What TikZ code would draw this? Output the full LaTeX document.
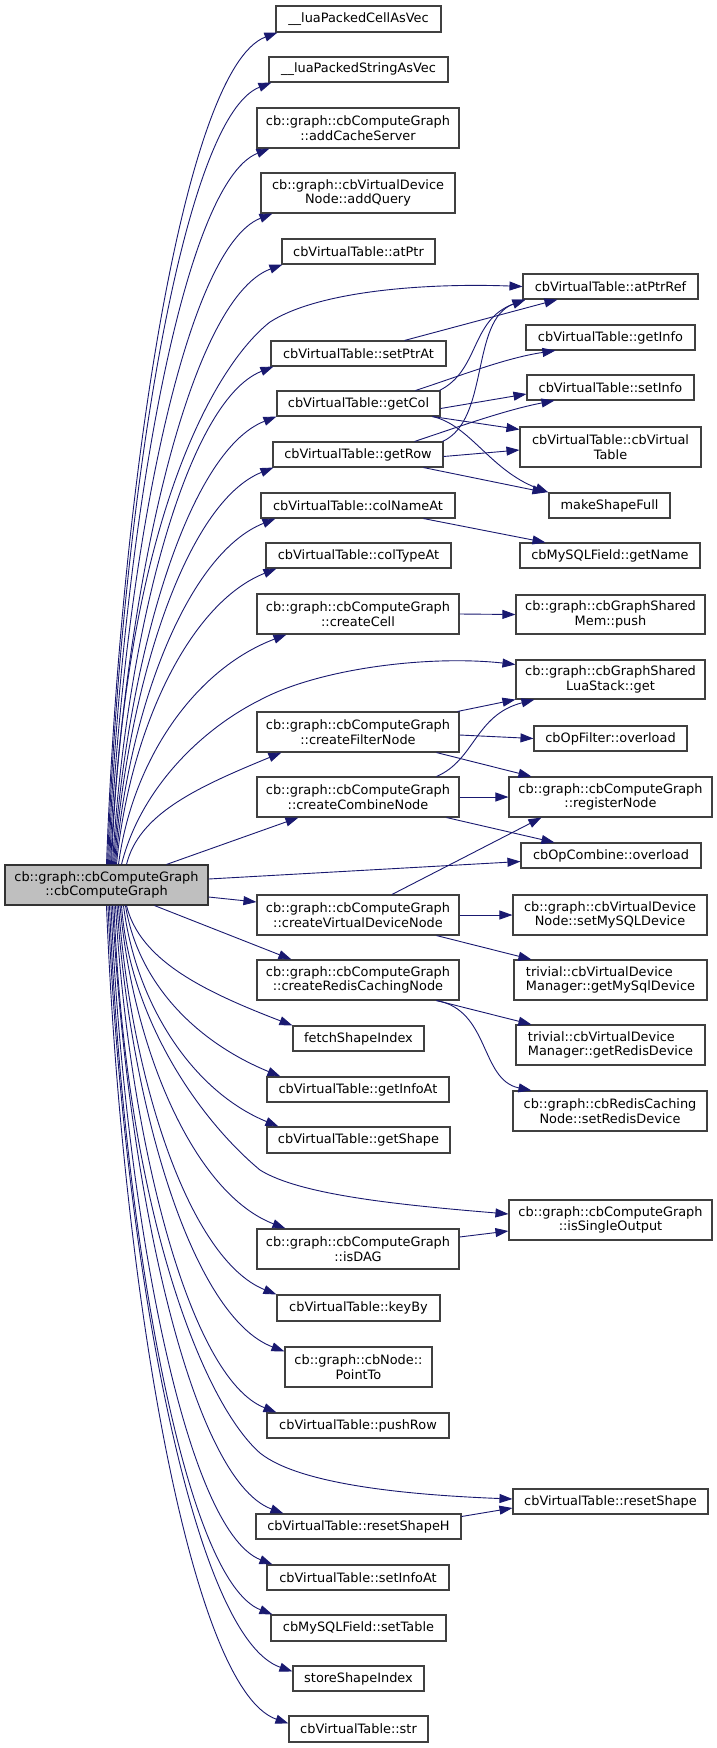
\documentclass[tikz,border=0pt]{standalone}
\usepackage{fontspec}
\setmainfont{DejaVu Sans}
\usetikzlibrary{arrows.meta,calc}
\definecolor{edgec}{RGB}{25,25,112}
\definecolor{bord}{HTML}{404040}
\definecolor{mainfill}{HTML}{BFBFBF}
\tikzset{
  box/.style={draw=bord, fill=white, line width=1.1pt, inner sep=0pt, align=center,
    font=\fontsize{12.9}{14.5}\selectfont},
  mainbox/.style={box, fill=mainfill, draw=black!80},
  arr/.style={draw=edgec, line width=0.9pt, -{Triangle[length=13pt,width=9pt]}, color=edgec},
}
\newcommand\upE[2]{\draw[arr] let \p1=(#1), \p2=(#2) in (\p1) .. controls ({(\x1)+0.08*((\x2)-(\x1))},{(\y2)+0.55*((\y1)-(\y2))}) and ({(\x1)+0.45*((\x2)-(\x1))},{(\y2)-35pt}) .. (\p2);}
\newcommand\dnE[2]{\draw[arr] let \p1=(#1), \p2=(#2) in (\p1) .. controls ({(\x1)+0.08*((\x2)-(\x1))},{(\y2)+0.55*((\y1)-(\y2))}) and ({(\x1)+0.45*((\x2)-(\x1))},{(\y2)+35pt}) .. (\p2);}
\begin{document}
\begin{tikzpicture}[x=1pt,y=-1pt]
\useasboundingbox[fill=white] (0,0) rectangle (717,1748);
% main
\node[mainbox, minimum width=203pt, minimum height=40pt] (m) at (106.5,885) {cb::graph::cbComputeGraph\\::cbComputeGraph};
% column 2
\node[box, minimum width=165pt, minimum height=26pt] (luaCell) at (358.5,19) {\_\_luaPackedCellAsVec};
\node[box, minimum width=179pt, minimum height=25pt] (luaStr) at (358.5,69.5) {\_\_luaPackedStringAsVec};
\node[box, minimum width=202pt, minimum height=40pt] (addCache) at (358,128) {cb::graph::cbComputeGraph\\::addCacheServer};
\node[box, minimum width=194pt, minimum height=40pt] (addQuery) at (358,193) {cb::graph::cbVirtualDevice\\Node::addQuery};
\node[box, minimum width=153pt, minimum height=25pt] (atPtr) at (358.5,251.5) {cbVirtualTable::atPtr};
\node[box, minimum width=175pt, minimum height=25pt] (setPtrAt) at (358.5,353.5) {cbVirtualTable::setPtrAt};
\node[box, minimum width=163pt, minimum height=25pt] (getCol) at (358.5,403.5) {cbVirtualTable::getCol};
\node[box, minimum width=170pt, minimum height=25pt] (getRow) at (358,454.5) {cbVirtualTable::getRow};
\node[box, minimum width=194pt, minimum height=25pt] (colNameAt) at (358,505.5) {cbVirtualTable::colNameAt};
\node[box, minimum width=185pt, minimum height=25pt] (colTypeAt) at (358.5,555.5) {cbVirtualTable::colTypeAt};
\node[box, minimum width=202pt, minimum height=40pt] (createCell) at (358,614) {cb::graph::cbComputeGraph\\::createCell};
\node[box, minimum width=202pt, minimum height=40pt] (createFilter) at (358,732) {cb::graph::cbComputeGraph\\::createFilterNode};
\node[box, minimum width=202pt, minimum height=40pt] (createCombine) at (358,797) {cb::graph::cbComputeGraph\\::createCombineNode};
\node[box, minimum width=202pt, minimum height=40pt] (createVDN) at (358,915) {cb::graph::cbComputeGraph\\::createVirtualDeviceNode};
\node[box, minimum width=202pt, minimum height=40pt] (createRedis) at (358,980) {cb::graph::cbComputeGraph\\::createRedisCachingNode};
\node[box, minimum width=131pt, minimum height=25pt] (fetchShapeIndex) at (358.5,1038.5) {fetchShapeIndex};
\node[box, minimum width=182pt, minimum height=25pt] (getInfoAt) at (358,1089.5) {cbVirtualTable::getInfoAt};
\node[box, minimum width=183pt, minimum height=26pt] (getShape) at (358.5,1140) {cbVirtualTable::getShape};
\node[box, minimum width=202pt, minimum height=40pt] (isDAG) at (358,1249) {cb::graph::cbComputeGraph\\::isDAG};
\node[box, minimum width=163pt, minimum height=26pt] (keyBy) at (358.5,1308) {cbVirtualTable::keyBy};
\node[box, minimum width=147pt, minimum height=40pt] (PointTo) at (358.5,1367) {cb::graph::cbNode::\\PointTo};
\node[box, minimum width=182pt, minimum height=25pt] (pushRow) at (358,1425.5) {cbVirtualTable::pushRow};
\node[box, minimum width=205pt, minimum height=25pt] (resetShapeH) at (358.5,1526.5) {cbVirtualTable::resetShapeH};
\node[box, minimum width=182pt, minimum height=25pt] (setInfoAt) at (358,1577.5) {cbVirtualTable::setInfoAt};
\node[box, minimum width=175pt, minimum height=26pt] (setTable) at (358.5,1628) {cbMySQLField::setTable};
\node[box, minimum width=131pt, minimum height=25pt] (storeShapeIndex) at (358.5,1678.5) {storeShapeIndex};
\node[box, minimum width=139pt, minimum height=26pt] (str) at (358.5,1729) {cbVirtualTable::str};
% column 3
\node[box, minimum width=175pt, minimum height=25pt] (atPtrRef) at (610.5,286.5) {cbVirtualTable::atPtrRef};
\node[box, minimum width=169pt, minimum height=25pt] (getInfo) at (610.5,337.5) {cbVirtualTable::getInfo};
\node[box, minimum width=167pt, minimum height=25pt] (setInfo) at (610.5,387.5) {cbVirtualTable::setInfo};
\node[box, minimum width=181pt, minimum height=40pt] (cbVT) at (610.5,447) {cbVirtualTable::cbVirtual\\Table};
\node[box, minimum width=121pt, minimum height=25pt] (makeShapeFull) at (609.5,505.5) {makeShapeFull};
\node[box, minimum width=180pt, minimum height=25pt] (getName) at (610,555.5) {cbMySQLField::getName};
\node[box, minimum width=189pt, minimum height=39pt] (push) at (610.5,614.5) {cb::graph::cbGraphShared\\Mem::push};
\node[box, minimum width=189pt, minimum height=39pt] (luaGet) at (610.5,679.5) {cb::graph::cbGraphShared\\LuaStack::get};
\node[box, minimum width=153pt, minimum height=25pt] (opFilter) at (610.5,738.5) {cbOpFilter::overload};
\node[box, minimum width=203pt, minimum height=40pt] (registerNode) at (610.5,797) {cb::graph::cbComputeGraph\\::registerNode};
\node[box, minimum width=180pt, minimum height=25pt] (opCombine) at (611,855.5) {cbOpCombine::overload};
\node[box, minimum width=194pt, minimum height=40pt] (setMySQL) at (610,915) {cb::graph::cbVirtualDevice\\Node::setMySQLDevice};
\node[box, minimum width=193pt, minimum height=40pt, align=left] (getMySql) at (610.5,980) {trivial::cbVirtualDevice\\Manager::getMySqlDevice};
\node[box, minimum width=189pt, minimum height=40pt, align=left] (getRedis) at (610.5,1045) {trivial::cbVirtualDevice\\Manager::getRedisDevice};
\node[box, minimum width=194pt, minimum height=40pt] (setRedis) at (610,1111) {cb::graph::cbRedisCaching\\Node::setRedisDevice};
\node[box, minimum width=203pt, minimum height=40pt] (isSingle) at (610.5,1220) {cb::graph::cbComputeGraph\\::isSingleOutput};
\node[box, minimum width=195pt, minimum height=25pt] (resetShape) at (610.5,1501.5) {cbVirtualTable::resetShape};

% edges from main, upward
\upE{m.north}{[xshift=2pt]luaCell.south west}
\upE{[xshift=1pt]m.north}{[xshift=3pt]luaStr.south west}
\upE{[xshift=2pt]m.north}{[xshift=13pt]addCache.south west}
\upE{[xshift=3pt]m.north}{[xshift=12pt]addQuery.south west}
\upE{[xshift=4pt]m.north}{[xshift=1pt]atPtr.south west}
\upE{[xshift=6pt]m.north}{[xshift=3pt]setPtrAt.south west}
\upE{[xshift=7pt]m.north}{getCol.south west}
\upE{[xshift=8pt]m.north}{[xshift=1pt]getRow.south west}
\upE{[xshift=9pt]m.north}{[xshift=15pt]colNameAt.south west}
\upE{[xshift=10pt]m.north}{[xshift=11pt]colTypeAt.south west}
\upE{[xshift=12pt]m.north}{[xshift=30pt]createCell.south west}
\upE{[xshift=20pt]m.north}{[xshift=25pt]createFilter.south west}
\draw[arr] ([xshift=60pt]m.north) -- ([xshift=42pt]createCombine.south west);
\draw[arr] ([xshift=5pt]m.north) .. controls (125,520) and (215,365) .. (270,322) .. controls (320,290) and (430,283) .. (atPtrRef.west);
\draw[arr] ([xshift=15pt]m.north) .. controls (140,790) and (200,730) .. (260,700) .. controls (320,668) and (430,655) .. ([yshift=-5pt]luaGet.north west);
% edges from main, sideways
\draw[arr] ([yshift=6pt]m.east) -- ([yshift=-6pt]opCombine.west);
\draw[arr] ([yshift=-12pt]m.east) -- ([yshift=13pt]createVDN.west);
% edges from main, downward
\dnE{m.south}{[yshift=-8pt]str.north west}
\dnE{[xshift=1.5pt]m.south}{[yshift=-6pt]storeShapeIndex.north west}
\dnE{[xshift=3pt]m.south}{[xshift=2pt]setTable.north west}
\dnE{[xshift=4.5pt]m.south}{[xshift=6pt]setInfoAt.north west}
\dnE{[xshift=6pt]m.south}{[xshift=28pt]resetShapeH.north west}
\dnE{[xshift=9pt]m.south}{[xshift=10pt]pushRow.north west}
\dnE{[xshift=10.5pt]m.south}{[yshift=-5pt]PointTo.north west}
\dnE{[xshift=12pt]m.south}{keyBy.north west}
\dnE{[xshift=13.5pt]m.south}{[xshift=29pt]isDAG.north west}
\dnE{[xshift=17pt]m.south}{[xshift=12pt]getShape.north west}
\dnE{[xshift=19pt]m.south}{[xshift=14pt]getInfoAt.north west}
\dnE{[xshift=20pt]m.south}{fetchShapeIndex.north west}
\draw[arr] ([xshift=48pt]m.south) -- ([xshift=35pt]createRedis.north west);
\draw[arr] ([xshift=7.5pt]m.south) .. controls (125,1200) and (200,1400) .. (260,1453) .. controls (300,1485) and (410,1495) .. ([yshift=2.5pt]resetShape.west);
\draw[arr] ([xshift=15pt]m.south) .. controls (130,1020) and (200,1120) .. (260,1170) .. controls (300,1195) and (400,1205) .. ([yshift=6pt]isSingle.west);

% column 2 -> column 3
\draw[arr] ([xshift=-42pt]setPtrAt.north east) -- ([xshift=35pt]atPtrRef.south west);
\draw[arr] ([xshift=-1pt]getCol.north east) .. controls (480,370) and (470,320) .. ([xshift=3pt]atPtrRef.south west);
\draw[arr] ([xshift=-25pt]getCol.north east) .. controls (460,376) and (505,358) .. ([xshift=30pt]getInfo.south west);
\draw[arr] ([yshift=-5pt]getCol.east) -- ([yshift=-6.5pt]setInfo.west);
\draw[arr] ([xshift=-8pt]getCol.south east) -- ([yshift=-3pt]cbVT.north west);
\draw[arr] ([xshift=-8pt]getCol.south east) .. controls (470,425) and (490,470) .. (makeShapeFull.north west);
\draw[arr] ([xshift=-1pt]getRow.north east) .. controls (490,420) and (470,320) .. ([xshift=3pt]atPtrRef.south west);
\draw[arr] ([xshift=-29pt]getRow.north east) .. controls (455,428) and (505,410) .. ([xshift=28pt]setInfo.south west);
\draw[arr] ([yshift=-2pt]getRow.east) -- ([yshift=-3pt]cbVT.west);
\draw[arr] ([xshift=-20pt]getRow.south east) -- ([xshift=-3pt]makeShapeFull.north west);
\draw[arr] ([xshift=-32pt]colNameAt.south east) -- ([xshift=26pt]getName.north west);
\draw[arr] (createCell.east) -- (push.west);
\draw[arr] ([xshift=-2pt]createFilter.north east) -- (luaGet.south west);
\draw[arr] ([yshift=-3pt]createFilter.east) -- (opFilter.west);
\draw[arr] ([xshift=-23pt]createFilter.south east) -- ([xshift=23pt]registerNode.north west);
\draw[arr] ([xshift=-23pt]createCombine.north east) .. controls (475,760) and (475,715) .. ([xshift=19pt]luaGet.south west);
\draw[arr] (createCombine.east) -- (registerNode.west);
\draw[arr] ([xshift=-13pt]createCombine.south east) -- ([xshift=34pt]opCombine.north west);
\draw[arr] ([xshift=34pt]createVDN.north) -- ([xshift=33pt]registerNode.south west);
\draw[arr] (createVDN.east) -- (setMySQL.west);
\draw[arr] ([xshift=-23pt]createVDN.south east) -- ([xshift=18pt]getMySql.north west);
\draw[arr] ([xshift=-23pt]createRedis.south east) -- ([xshift=16pt]getRedis.north west);
\draw[arr] ([xshift=-23pt]createRedis.south east) .. controls (490,1010) and (480,1080) .. ([xshift=19pt]setRedis.north west);
\draw[arr] ([yshift=12pt]isDAG.east) -- ([yshift=-11pt]isSingle.west);
\draw[arr] ([yshift=10pt]resetShapeH.east) -- ([yshift=-6.5pt]resetShape.west);
\end{tikzpicture}
\end{document}
